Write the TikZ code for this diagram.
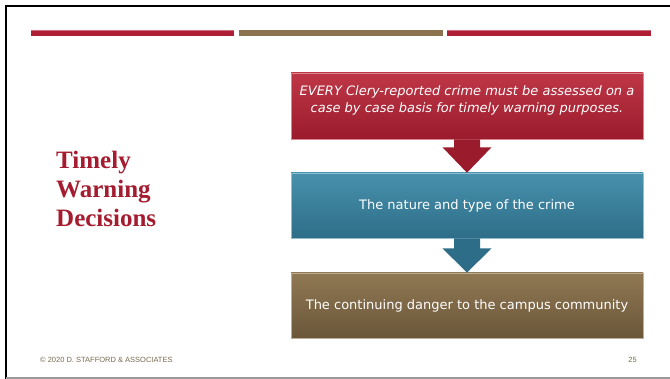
\documentclass[tikz,border=0pt]{standalone}
\usepackage{fontspec}
\setmainfont{DejaVu Sans}
\newfontfamily\titlefont{Liberation Serif}
\newfontfamily\footfont{Liberation Sans}
\usetikzlibrary{calc}
\definecolor{barred}{HTML}{B01E36}
\definecolor{barbrown}{HTML}{8B7350}
\definecolor{titlered}{HTML}{A51C30}
\definecolor{redtop}{HTML}{BE3747}
\definecolor{redbot}{HTML}{9A1B2C}
\definecolor{tealtop}{HTML}{4791AD}
\definecolor{tealbot}{HTML}{2E6D87}
\definecolor{browntop}{HTML}{907853}
\definecolor{brownbot}{HTML}{6A5639}
\definecolor{footcol}{HTML}{7A6A50}
\tikzset{
  stepbox/.style={minimum width=352pt, minimum height=65pt, inner sep=0pt, draw=#1top!60!white, line width=0.6pt},
  boxtext/.style={text=white, font=\fontsize{13}{17}\selectfont, align=center},
  titletext/.style={anchor=base west, text=titlered, font=\titlefont\bfseries\fontsize{25}{29}\selectfont, inner sep=0pt},
  foottext/.style={text=footcol, font=\footfont\fontsize{7.5}{9}\selectfont, inner sep=0pt}
}
\begin{document}
\begin{tikzpicture}[x=1pt,y=-1pt]
\useasboundingbox (0,0) rectangle (670,379);
\fill[white] (0,0) rectangle (670,379);
% slide frame
\draw[black, line width=2pt] (6,379) -- (6,6) -- (670,6);
\draw[gray!80, line width=2pt] (6,378) -- (670,378);
% top bars
\fill[barred] (31,30) rectangle (234,36);
\fill[barbrown] (239,30) rectangle (443,36);
\fill[barred] (447,30) rectangle (651,36);
\fill[white, opacity=0.35] (31,30) rectangle (234,31);
\fill[white, opacity=0.35] (447,30) rectangle (651,31);
% title
\node[titletext] (t1) at (56,169) {Timely};
\node[titletext] (t2) at (56,198) {Warning};
\node[titletext] (t3) at (56,227) {Decisions};
% boxes
\node[stepbox=red, minimum height=66pt, top color=redtop, bottom color=redbot] (b1) at (467,106) {};
\node[stepbox=teal, top color=tealtop, bottom color=tealbot] (b2) at (467,205.5) {};
\node[stepbox=brown, top color=browntop, bottom color=brownbot] (b3) at (467,305.5) {};
\node[boxtext, font=\itshape\fontsize{13}{17}\selectfont] (x1) at ($(b1.center)+(0,-6)$) {EVERY Clery-reported crime must be assessed on a\\case by case basis for timely warning purposes.};
\node[boxtext] (x2) at (b2.center) {The nature and type of the crime};
\node[boxtext] (x3) at (b3.center) {The continuing danger to the campus community};
% arrows
\fill[redbot] ($(b1.south)+(-13,0)$) -- ($(b1.south)+(13,0)$) -- ($(b1.south)+(13,8)$) -- ($(b1.south)+(24.5,8)$) -- (b2.north) -- ($(b1.south)+(-24.5,8)$) -- ($(b1.south)+(-13,8)$) -- cycle;
\fill[tealbot] ($(b2.south)+(-13,0)$) -- ($(b2.south)+(13,0)$) -- ($(b2.south)+(13,10)$) -- ($(b2.south)+(24.5,10)$) -- (b3.north) -- ($(b2.south)+(-24.5,10)$) -- ($(b2.south)+(-13,10)$) -- cycle;
% footer
\node[foottext, anchor=west] (f1) at (40,360) {© 2020 D. STAFFORD \& ASSOCIATES};
\node[foottext, anchor=east] (f2) at (637,360) {25};
\end{tikzpicture}
\end{document}
